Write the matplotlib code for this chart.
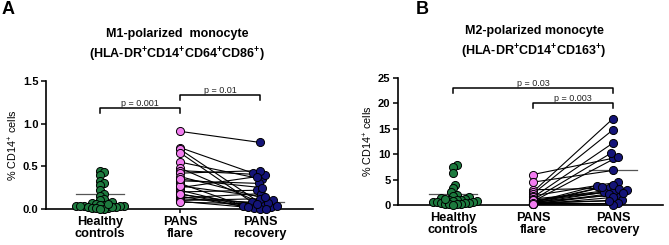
import numpy as np
import matplotlib
matplotlib.use("Agg")
import matplotlib.pyplot as plt

plt.rcParams['font.family'] = ['Liberation Sans', 'DejaVu Sans']
plt.rcParams['mathtext.fontset'] = 'custom'
plt.rcParams['mathtext.rm'] = 'Liberation Sans'
plt.rcParams['mathtext.bf'] = 'Liberation Sans:bold'
plt.rcParams['mathtext.it'] = 'Liberation Sans:italic'

# ---------------- data ----------------
categories = ["Healthy\ncontrols", "PANS\nflare", "PANS\nrecovery"]

m1_healthy = [0.45, 0.43, 0.40, 0.33, 0.30, 0.28, 0.22, 0.18, 0.15, 0.12, 0.10,
              0.08, 0.07, 0.06, 0.05, 0.05, 0.04, 0.04, 0.03, 0.03, 0.03, 0.02,
              0.02, 0.01, 0.01, 0.01, 0.00, 0.00, 0.02, 0.06]
m1_flare = [0.91, 0.72, 0.70, 0.66, 0.55, 0.48, 0.45, 0.42, 0.38, 0.33, 0.30, 0.25,
            0.22, 0.20, 0.17, 0.15, 0.13, 0.12, 0.10, 0.09, 0.08, 0.18, 0.27, 0.35]
m1_recovery = [0.78, 0.42, 0.05, 0.08, 0.35, 0.02, 0.40, 0.45, 0.10, 0.30, 0.04, 0.38,
               0.01, 0.22, 0.03, 0.00, 0.18, 0.07, 0.12, 0.00, 0.06, 0.02, 0.14, 0.25]
m1_center = [0.17, None, 0.08]
m1_pvals = [(0, 1, 1.18, "p = 0.001"), (1, 2, 1.335, "p = 0.01")]

m2_healthy = [7.8, 7.5, 6.3, 4.0, 3.3, 2.5, 2.0, 1.8, 1.5, 1.3, 1.2, 1.0, 1.0, 0.9,
              0.8, 0.7, 0.6, 0.5, 0.5, 0.4, 0.3, 0.3, 0.2, 0.2, 0.1, 0.1, 0.0, 1.1]
m2_flare = [6.0, 4.5, 3.0, 2.6, 2.2, 1.8, 1.5, 1.2, 1.0, 0.8, 0.7, 0.6, 0.5, 0.4,
            0.3, 0.3, 0.2, 0.2, 0.1, 0.1, 0.5, 0.9, 0.4, 0.2]
m2_recovery = [9.2, 6.8, 3.3, 17.0, 14.8, 4.5, 12.2, 2.5, 10.2, 3.0, 9.5, 2.0, 3.8,
               2.8, 1.0, 0.3, 4.0, 2.2, 0.0, 1.5, 3.5, 3.2, 0.8, 2.3]
m2_center = [2.2, None, 6.8]
m2_pvals = [(0, 2, 23.0, "p = 0.03"), (1, 2, 20.1, "p = 0.003")]

titles = ["M1-polarized  monocyte\n(HLA-DR$^{\\mathbf{+}}$CD14$^{\\mathbf{+}}$CD64$^{\\mathbf{+}}$CD86$^{\\mathbf{+}}$)",
          "M2-polarized monocyte\n(HLA-DR$^{\\mathbf{+}}$CD14$^{\\mathbf{+}}$CD163$^{\\mathbf{+}}$)"]

GREEN = "#1d7a3e"
PINK = "#f27cf0"
NAVY = "#141478"

W, H = 669, 245
fig = plt.figure(figsize=(W / 100, H / 100), dpi=100)


def swarm(ax, x0, ys, dmin, step=1.0):
    ys = np.asarray(ys, float)
    pts = ax.transData.transform(np.column_stack([np.full(len(ys), x0), ys]))
    order = np.argsort(ys)
    placed = []
    offs = np.zeros(len(ys))
    cands = [0.0]
    for k in range(1, 200):
        cands += [k * step, -k * step]
    for i in order:
        px, py = pts[i]
        for c in cands:
            ok = True
            for qx, qy in placed:
                if (px + c - qx) ** 2 + (py - qy) ** 2 < dmin ** 2:
                    ok = False
                    break
            if ok:
                break
        placed.append((px + c, py))
        offs[i] = c
    newpix = np.column_stack([pts[:, 0] + offs, pts[:, 1]])
    return ax.transData.inverted().transform(newpix)[:, 0]


def panel(rect, xlim, ylim, yticks, yticklabels, healthy, flare, recovery,
          center, pvals, title, title_xy, letter, letter_xy, bar_drop):
    ax = fig.add_axes(rect)
    ax.set_xlim(*xlim)
    ax.set_ylim(*ylim)
    for s in ["top", "right"]:
        ax.spines[s].set_visible(False)
    for s in ["left", "bottom"]:
        ax.spines[s].set_linewidth(1.2)
    ax.set_yticks(yticks)
    ax.set_yticklabels(yticklabels, fontsize=8, fontweight="bold")
    ax.set_xticks([0, 1, 2])
    ax.set_xticklabels(categories, fontsize=9.2, fontweight="bold", linespacing=1.05)
    ax.tick_params(axis="y", length=3.5, width=1.1, pad=2)
    ax.tick_params(axis="x", length=3, width=1.1, pad=2)
    ax.set_ylabel("% CD14$^{+}$ cells", fontsize=7.8, labelpad=2)

    s = 34
    hx = swarm(ax, 0, healthy, 4.0)
    rx = swarm(ax, 2, recovery, 5.2)
    fx = np.full(len(flare), 1.0)
    # centre lines
    for i, c in enumerate(center):
        if c is None:
            continue
        ax.plot([i - 0.3, i + 0.3], [c, c], color="#555555", lw=0.9, zorder=1,
                clip_on=False)
    # paired lines
    for a, b, xb in zip(flare, recovery, rx):
        ax.plot([1, xb], [a, b], color="black", lw=0.8, zorder=2, clip_on=False)
    ax.scatter(hx, healthy, s=s, color=GREEN, edgecolor="black", lw=0.7,
               zorder=3, clip_on=False)
    ax.scatter(rx, recovery, s=s, color=NAVY, edgecolor="black", lw=0.7,
               zorder=3, clip_on=False)
    ax.scatter(fx, flare, s=s, color=PINK, edgecolor="black", lw=0.7,
               zorder=4, clip_on=False)

    for x1, x2, y, txt in pvals:
        ax.plot([x1, x1, x2, x2], [y - bar_drop, y, y, y - bar_drop],
                color="black", lw=1.1, clip_on=False)
        ax.text((x1 + x2) / 2, y, txt, ha="center", va="bottom", fontsize=6.5,
                color="#222222")

    fig.text(title_xy[0] / W, 1 - title_xy[1] / H, title, ha="center", va="center",
             fontsize=9, fontweight="bold", linespacing=1.4)
    fig.text(letter_xy[0] / W, 1 - letter_xy[1] / H, letter, ha="left", va="center",
             fontsize=13, fontweight="bold")
    return ax


# panel A: axis x from 46 to 313 px, y=0 at 209 px, y=1.5 at 81 px
panel([46 / W, (H - 209) / H, (313 - 46) / W, (209 - 81) / H],
      ((46 - 100) / 80, (313 - 100) / 80), (0, 1.5),
      [0, 0.5, 1.0, 1.5], ["0.0", "0.5", "1.0", "1.5"],
      m1_healthy, m1_flare, m1_recovery, m1_center, m1_pvals,
      titles[0], (177, 46), "A", (2, 9), 0.06)

# panel B: axis x from 398 to 663 px, y=0 at 205 px, y=25 at 78 px
panel([398 / W, (H - 205) / H, (663 - 398) / W, (205 - 78) / H],
      ((398 - 453) / 80, (663 - 453) / 80), (0, 25),
      [0, 5, 10, 15, 20, 25], ["0", "5", "10", "15", "20", "25"],
      m2_healthy, m2_flare, m2_recovery, m2_center, m2_pvals,
      titles[1], (534, 43), "B", (416, 9), 1.0)

fig.savefig("out.png", dpi=100)
